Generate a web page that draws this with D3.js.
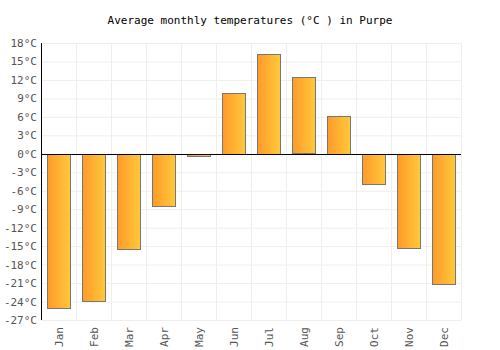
<!DOCTYPE html>
<html>
<head>
<meta charset="utf-8">
<script src="https://cdn.jsdelivr.net/npm/d3@7/dist/d3.min.js"></script>
<style>
  body { margin: 0; background: #fff; }
  svg text { font-family: "DejaVu Sans Mono", monospace; }
</style>
</head>
<body>
<div id="chart"></div>
<script>
var months = ["Jan","Feb","Mar","Apr","May","Jun","Jul","Aug","Sep","Oct","Nov","Dec"];
var temps = [-25.0, -23.8, -15.5, -8.5, -0.4, 9.9, 16.2, 12.4, 6.2, -4.9, -15.3, -21.1];
var yTicks = [18, 15, 12, 9, 6, 3, 0, -3, -6, -9, -12, -15, -18, -21, -24, -27];

var width = 500,
    height = 350,
    margin = {top: 43, right: 39, bottom: 30, left: 41};

var svg = d3.select('#chart').append('svg')
    .attr('width', width)
    .attr('height', height)

var defs = svg.append('defs')
var grad = defs.append('linearGradient').attr('id', 'barGrad')
    .attr('x1', '0%').attr('x2', '100%').attr('y1', '0%').attr('y2', '0%')
grad.append('stop').attr('offset', '0%').attr('stop-color', '#ff9a2a')
grad.append('stop').attr('offset', '100%').attr('stop-color', '#ffc93a')

var x = d3.scaleBand().domain(months)
    .range([margin.left, width - margin.right])
    .paddingInner(0.34).paddingOuter(0.17)
var xCol = d3.scaleBand().domain(months).range([margin.left, width - margin.right])
var y = d3.scaleLinear().domain([-27, 18]).range([height - margin.bottom, margin.top])

// title
svg.append('text')
    .attr('x', width / 2)
    .attr('y', 24)
    .attr('text-anchor', 'middle')
    .style('font-size', '11px')
    .attr('fill', '#000')
    .text('Average monthly temperatures (°C ) in Purpe')

// grid
var g = svg.append('g')
g.selectAll('.hgrid').data(yTicks).enter().append('line')
    .attr('class', 'hgrid')
    .attr('x1', margin.left).attr('x2', width - margin.right)
    .attr('y1', function(d) { return y(d) + 0.5; })
    .attr('y2', function(d) { return y(d) + 0.5; })
    .attr('stroke', '#eeeeee')
g.selectAll('.vgrid').data(months).enter().append('line')
    .attr('class', 'vgrid')
    .attr('x1', function(d) { return xCol(d) + xCol.bandwidth() + 0.5; })
    .attr('x2', function(d) { return xCol(d) + xCol.bandwidth() + 0.5; })
    .attr('y1', margin.top).attr('y2', height - margin.bottom)
    .attr('stroke', '#eeeeee')

// bars
g.selectAll('.bar').data(temps).enter().append('rect')
    .attr('class', 'bar')
    .attr('x', function(d, i) { return Math.round(x(months[i])) + 0.5; })
    .attr('width', Math.round(x.bandwidth()))
    .attr('y', function(d) { return Math.round(y(Math.max(0, d))) + 0.5; })
    .attr('height', function(d) { return Math.round(Math.abs(y(d) - y(0))); })
    .attr('fill', 'url(#barGrad)')
    .attr('stroke', '#777777')
    .attr('stroke-width', 1)

// zero line and left axis
g.append('line')
    .attr('x1', margin.left).attr('x2', width - margin.right)
    .attr('y1', Math.round(y(0)) + 0.5).attr('y2', Math.round(y(0)) + 0.5)
    .attr('stroke', '#000')
g.append('line')
    .attr('x1', margin.left + 0.5).attr('x2', margin.left + 0.5)
    .attr('y1', margin.top).attr('y2', height - margin.bottom)
    .attr('stroke', '#000')

// y labels
g.selectAll('.ylab').data(yTicks).enter().append('text')
    .attr('class', 'ylab')
    .attr('x', margin.left - 4)
    .attr('y', function(d) { return y(d) + 4; })
    .attr('text-anchor', 'end')
    .style('font-size', '11px')
    .attr('fill', '#555')
    .text(function(d) { return d + '°C'; })

// x labels
g.selectAll('.xlab').data(months).enter().append('text')
    .attr('class', 'xlab')
    .attr('transform', function(d) {
        return 'translate(' + (xCol(d) + xCol.bandwidth() / 2 + 4) + ',' + (height - margin.bottom + 7) + ') rotate(-90)';
    })
    .attr('text-anchor', 'end')
    .style('font-size', '11px')
    .attr('fill', '#555')
    .text(function(d) { return d; })
</script>
</body>
</html>
